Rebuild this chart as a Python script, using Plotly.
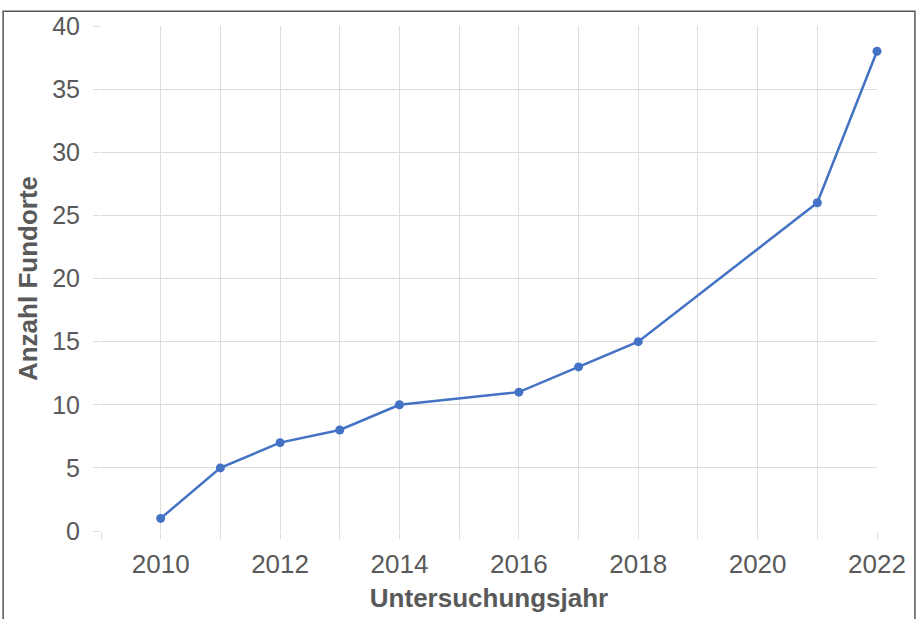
import plotly.graph_objects as go

years = [2010, 2011, 2012, 2013, 2014, 2016, 2017, 2018, 2021, 2022]
fundorte = [1, 5, 7, 8, 10, 11, 13, 15, 26, 38]
x_ticks = [2010, 2012, 2014, 2016, 2018, 2020, 2022]
y_ticks = [0, 5, 10, 15, 20, 25, 30, 35, 40]

W, H = 918, 619
L, R, T, B = 101, 40, 21, 86
pw, ph = W - L - R, H - T - B

fig = go.Figure()
fig.add_trace(go.Scatter(
    x=years, y=fundorte, mode="lines+markers",
    line=dict(color="#4472C4", width=2.5),
    marker=dict(color="#4472C4", size=9),
    cliponaxis=False, showlegend=False,
))

font = "Liberation Sans, Arial, sans-serif"
txt = "#595959"
fig.update_layout(
    width=W, height=H,
    margin=dict(l=L, r=R, t=T, b=B, pad=0),
    paper_bgcolor="white", plot_bgcolor="white",
    font=dict(family=font, color=txt),
    xaxis=dict(
        range=[2009, 2022], tickmode="array", tickvals=x_ticks,
        ticktext=[str(v) for v in x_ticks],
        showgrid=True, gridcolor="#DDDDDD", gridwidth=1,
        zeroline=False, showline=False,
        ticks="outside", ticklen=7, tickcolor="#DDDDDD",
        tickfont=dict(size=26, color=txt),
        ticklabelstandoff=3,
        title=dict(text="<b>Untersuchungsjahr</b>", font=dict(size=26, color=txt), standoff=10),
        minor=dict(tickvals=list(range(2009, 2023)), showgrid=True, gridcolor="#DDDDDD",
                   ticks="outside", ticklen=7, tickcolor="#DDDDDD"),
    ),
    yaxis=dict(
        range=[0, 40], tickvals=y_ticks,
        showgrid=True, gridcolor="#DDDDDD", gridwidth=1,
        zeroline=False, showline=False,
        ticks="outside", ticklen=7, tickcolor="#DDDDDD",
        tickfont=dict(size=25, color=txt),
        ticklabelstandoff=8,
        title=dict(text="<b>Anzahl Fundorte</b>", font=dict(size=26, color=txt), standoff=7),
    ),
)

# outer frame
fig.add_shape(type="rect", xref="paper", yref="paper",
              x0=(3 - L) / pw, x1=(916 - L) / pw,
              y0=(H - 640 - B) / ph, y1=(H - 6 - B) / ph,
              line=dict(color="#555555", width=1.5), fillcolor="rgba(0,0,0,0)", layer="below")

fig.write_html("out.html")
